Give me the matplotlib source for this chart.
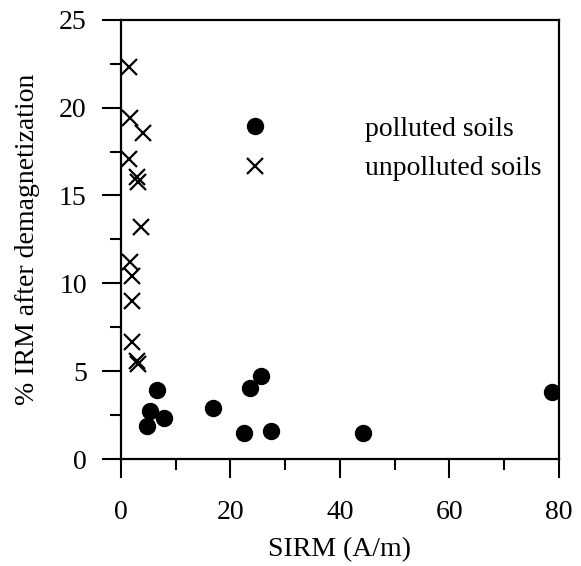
import matplotlib
matplotlib.use('Agg')
import matplotlib.pyplot as plt
from matplotlib.ticker import MultipleLocator

plt.rcParams['font.family'] = ['Liberation Serif', 'DejaVu Serif']

# polluted soils
sirm_pol = [6.65, 5.3, 7.9, 4.7, 16.9, 23.6, 25.6, 22.5, 27.5, 44.3, 78.7]
irm_pol = [3.92, 2.74, 2.32, 1.87, 2.91, 4.05, 4.72, 1.50, 1.60, 1.46, 3.84]

# unpolluted soils
sirm_unp = [1.46, 1.59, 4.09, 1.46, 2.99, 3.17, 3.6, 1.59, 2.07, 1.95, 2.07, 2.87, 3.17]
irm_unp = [22.33, 19.39, 18.53, 17.05, 16.06, 15.77, 13.2, 11.2, 10.44, 9.02, 6.64, 5.59, 5.4]

fs = 20

fig = plt.figure(figsize=(5.81, 5.66), dpi=100)
ax = fig.add_axes([0.208, 0.189, 0.754, 0.776])

ax.plot(sirm_pol, irm_pol, 'o', color='black', ms=11.5, label='polluted soils')
ax.plot(sirm_unp, irm_unp, 'x', color='black', ms=11, mew=1.6, label='unpolluted soils')

ax.set_xlim(0, 80)
ax.set_ylim(0, 25)
ax.xaxis.set_major_locator(MultipleLocator(20))
ax.xaxis.set_minor_locator(MultipleLocator(10))
ax.yaxis.set_major_locator(MultipleLocator(5))
ax.yaxis.set_minor_locator(MultipleLocator(2.5))
ax.tick_params(which='major', direction='out', length=13.5, width=1.5, labelsize=fs)
ax.tick_params(which='minor', direction='out', length=8, width=1.5)
ax.tick_params(axis='x', which='major', pad=16)
ax.tick_params(axis='y', which='major', pad=11)
for s in ax.spines.values():
    s.set_linewidth(1.6)

ax.set_xlabel('SIRM (A/m)', fontsize=fs, labelpad=9)
ax.set_ylabel('% IRM after demagnetization', fontsize=fs, labelpad=14)

ax.legend(loc='upper left', bbox_to_anchor=(0.25, 0.805), frameon=False,
          fontsize=fs, handletextpad=3.45, labelspacing=0.5, handlelength=1,
          borderaxespad=0)

fig.savefig('out.png', dpi=100)
